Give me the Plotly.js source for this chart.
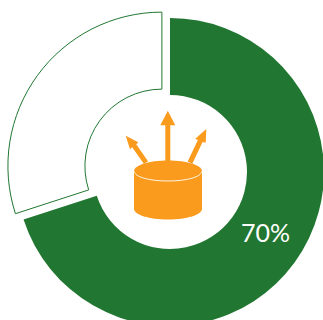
<!DOCTYPE html>
<html>
<head>
<meta charset="utf-8">
<script src="https://cdn.plot.ly/plotly-3.0.1.min.js"></script>
<style>
  html, body { margin: 0; padding: 0; width: 323px; height: 320px; overflow: hidden; background: #fff; }
  #chart { width: 340px; height: 340px; }
</style>
</head>
<body>
<div id="chart"></div>
<script>
// Share of the total: highlighted part and the pulled-out remainder
const categories = ['Share', 'Remainder'];
const values = [70, 30];
const sliceColors = ['#217731', '#FFFFFF'];
const outlineWidths = [0, 1];
const GREEN = '#217731';
const ORANGE = '#FB9B1E';

// The figure is slightly larger than the window so the ring bleeds off the edge
const W = 340, H = 340;
const M = { l: 6, r: 6, t: 8, b: 4 };

// Pixel position to paper fraction, used by the icon shapes
const px = x => ((x - M.l) / (W - M.l - M.r)).toFixed(5);
const py = y => (1 - (y - M.t) / (H - M.t - M.b)).toFixed(5);
const P = (x, y) => px(x) + ',' + py(y);
const poly = pts => 'M' + pts.map(p => P(p[0], p[1])).join('L') + 'Z';

const shape = (path, extra) => Object.assign({
  type: 'path', xref: 'paper', yref: 'paper', layer: 'above', path,
  fillcolor: ORANGE, line: { width: 0 }
}, extra || {});

// Cylinder body: top half-ellipse, sides and bottom half-ellipse
const cx = 168, rx = 34, topY = 171, botY = 209, ry = 10.5, k = 0.5523;
const cyl = 'M' + P(cx - rx, topY) +
  'C' + P(cx - rx, topY - ry * k) + ' ' + P(cx - rx * k, topY - ry) + ' ' + P(cx, topY - ry) +
  'C' + P(cx + rx * k, topY - ry) + ' ' + P(cx + rx, topY - ry * k) + ' ' + P(cx + rx, topY) +
  'L' + P(cx + rx, botY) +
  'C' + P(cx + rx, botY + ry * k) + ' ' + P(cx + rx * k, botY + ry) + ' ' + P(cx, botY + ry) +
  'C' + P(cx - rx * k, botY + ry) + ' ' + P(cx - rx, botY + ry * k) + ' ' + P(cx - rx, botY) + 'Z';
const rim = 'M' + P(cx - rx + 0.5, topY + 0.5) +
  'C' + P(cx - rx + 0.5, topY + ry * k) + ' ' + P(cx - rx * k, topY + ry - 0.5) + ' ' + P(cx, topY + ry - 0.5) +
  'C' + P(cx + rx * k, topY + ry - 0.5) + ' ' + P(cx + rx - 0.5, topY + ry * k) + ' ' + P(cx + rx - 0.5, topY + 0.5);

const arrows = [
  [[165.3, 163], [170.3, 163], [170.3, 125.3], [175.3, 125.3], [167.8, 110.7], [160.3, 125.3], [165.3, 125.3]],
  [[144, 164], [148, 161.2], [136.25, 144.36], [138.3, 142.3], [125.7, 135.7], [130, 149.3], [132.15, 147.24]],
  [[187.7, 161.6], [192.3, 163.8], [202.6, 141.9], [205.7, 142.7], [206.3, 129], [195, 139], [198, 139.7]]
];

const shapes = arrows.map(a => shape(poly(a)));
shapes.push(shape(cyl));
shapes.push(shape(rim, { fillcolor: 'rgba(0,0,0,0)', line: { color: '#FFF6E6', width: 1 } }));

const data = [{
  type: 'pie',
  labels: categories,
  values: values,
  hole: 0.5,
  sort: false,
  direction: 'clockwise',
  rotation: 0,
  pull: [0, 0.065],
  textinfo: 'none',
  hoverinfo: 'none',
  showlegend: false,
  marker: { colors: sliceColors, line: { color: GREEN, width: outlineWidths } }
}];

const layout = {
  width: W, height: H,
  margin: M,
  paper_bgcolor: '#fff',
  showlegend: false,
  shapes: shapes,
  annotations: [{
    xref: 'paper', yref: 'paper',
    x: +px(265.5), y: +py(232),
    xanchor: 'center', yanchor: 'middle',
    showarrow: false,
    text: values[0] + '%',
    font: { family: 'Lato, sans-serif', size: 25, color: '#FFFFFF', weight: 400 }
  }]
};

Plotly.newPlot('chart', data, layout, { displayModeBar: false, staticPlot: true });
</script>
</body>
</html>
